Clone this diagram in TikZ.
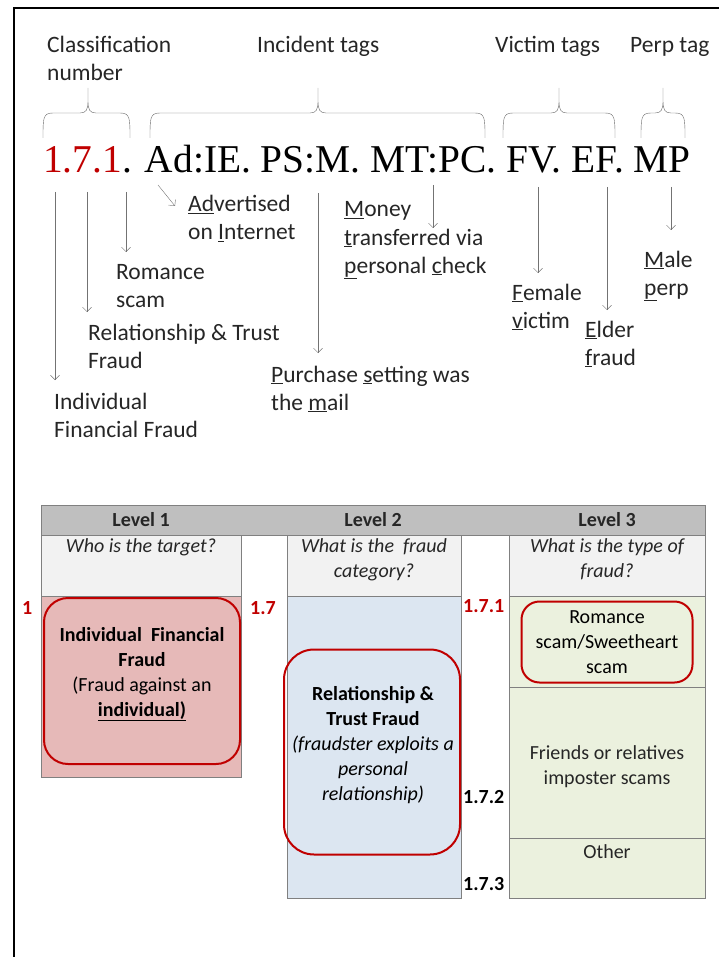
\documentclass[tikz,border=0pt]{standalone}
\usepackage{fontspec}
\setmainfont{Carlito}
\newfontfamily\codefont{Liberation Serif}
\usetikzlibrary{positioning,arrows.meta}
\definecolor{fraudred}{RGB}{192,0,0}
\definecolor{headgray}{RGB}{191,191,191}
\definecolor{askgray}{RGB}{242,242,242}
\definecolor{pinkcell}{RGB}{230,185,184}
\definecolor{bluecell}{RGB}{220,230,241}
\definecolor{greencell}{RGB}{235,241,222}
\definecolor{textgray}{RGB}{38,38,38}
\newcommand{\keyl}[1]{\underline{#1}}
\newcommand{\tagbrace}[3]{%
  \draw[tag-brace] (#1,138) .. controls (#1,118) and (#1,113) .. ({#1+10},113)
    -- ({#2-8},113) .. controls ({#2-2},113) and (#2,110) .. (#2,101) -- (#2,88)
    (#2,101) .. controls (#2,110) and ({#2+2},113) .. ({#2+8},113)
    -- ({#3-10},113) .. controls (#3,113) and (#3,118) .. (#3,138);}
\tikzset{
    tag-label/.style = {anchor=base west, align=left, inner sep=0pt, text=textgray, font=\fontsize{23.5}{28}\selectfont},
    code-label/.style = {anchor=base west, inner sep=0pt, font=\codefont\fontsize{39.4}{39}\selectfont},
    tag-brace/.style = {draw=black!60, thin},
    tag-arrow/.style = {draw=black!55, thin, -{Straight Barb[length=4.5pt,width=9pt]}},
    cell/.style = {draw=black!50, thin},
    cell-text/.style = {align=center, inner sep=0pt, text=textgray, font=\fontsize{20}{25}\selectfont},
    fraud-box/.style = {draw=fraudred, line width=2pt, rounded corners=24pt, align=center, inner sep=0pt, text=black, font=\fontsize{20}{25}\selectfont},
    level-no/.style = {anchor=west, inner sep=0pt, font=\bfseries\fontsize{20}{20}\selectfont},
}
\begin{document}
\begin{tikzpicture}[x=1pt, y=-1pt]
\useasboundingbox (0,0) rectangle (719,957);
% frame
\draw[line width=2.5pt] (14,957) -- (14,8) -- (719,8);

% tag groups
\node[tag-label] (cls) at (47,81) {Classification\\number};
\node[tag-label] (inc) at (257,53) {Incident tags};
\node[tag-label] (vic) at (495,53) {Victim tags};
\node[tag-label] (ptag) at (630,53) {Perp tag};
\tagbrace{43}{88}{130}
\tagbrace{150}{318}{485}
\tagbrace{503}{559}{615}
\tagbrace{641}{663}{685}

% the code
\node[code-label] (code) at (43,173) {\textcolor{fraudred}{1.7.1}. Ad:IE. PS:M. MT:PC. FV. EF. MP};

% meanings (base = last line)
\node[tag-label] (ifraud) at (54,437) {Individual\\Financial Fraud};
\node[tag-label] (rtfraud) at (88,368) {Relationship \& Trust\\Fraud};
\node[tag-label] (romance) at (116,307) {Romance\\scam};
\node[tag-label] (advert) at (188,240) {\keyl{Ad}vertised\\on \keyl{I}nternet};
\node[tag-label] (purchase) at (271,410) {\keyl{P}urchase \keyl{s}etting was\\the \keyl{m}ail};
\node[tag-label] (money) at (344,273) {\keyl{M}oney\\\keyl{t}ransferred via\\\keyl{p}ersonal \keyl{c}heck};
\node[tag-label] (female) at (512,328) {\keyl{F}emale\\\keyl{v}ictim};
\node[tag-label] (elder) at (585,365) {\keyl{E}lder\\\keyl{f}raud};
\node[tag-label] (male) at (644,295) {\keyl{M}ale\\\keyl{p}erp};

\coordinate (c-one) at (55,192);
\coordinate (c-seven) at (87,192);
\coordinate (c-onetwo) at (126,192);
\coordinate (c-ad) at (158,185);
\coordinate (c-ps) at (318,193);
\coordinate (c-mt) at (433,185);
\coordinate (c-fv) at (538,187);
\coordinate (c-ef) at (607,187);
\coordinate (c-mp) at (671,187);
\draw[tag-arrow] (c-one) -- (55,380);
\draw[tag-arrow] (c-seven) -- (87,312);
\draw[tag-arrow] (c-onetwo) -- (126,252);
\draw[tag-arrow] (c-ad) -- (175,206);
\draw[tag-arrow] (c-ps) -- (318,353);
\draw[tag-arrow] (c-mt) -- (433,228);
\draw[tag-arrow] (c-fv) -- (538,273);
\draw[tag-arrow] (c-ef) -- (607,310);
\draw[tag-arrow] (c-mp) -- (671,230);

% table
\draw[cell, fill=headgray] (41,505) rectangle (705,535);
\draw[cell, fill=askgray] (41,535) rectangle (241,596);
\draw[cell, fill=askgray] (287,535) rectangle (461,596);
\draw[cell, fill=askgray] (509,535) rectangle (705,596);
\draw[cell, fill=pinkcell] (41,596) rectangle (241,777);
\draw[cell, fill=bluecell] (287,596) rectangle (461,898);
\draw[cell, fill=greencell] (509,596) rectangle (705,687);
\draw[cell, fill=greencell] (509,687) rectangle (705,838);
\draw[cell, fill=greencell] (509,838) rectangle (705,898);

\node[cell-text, font=\bfseries\fontsize{20}{25}\selectfont] (lv1) at (141,520) {Level 1};
\node[cell-text, font=\bfseries\fontsize{20}{25}\selectfont] (lv2) at (373,520) {Level 2};
\node[cell-text, font=\bfseries\fontsize{20}{25}\selectfont] (lv3) at (607,520) {Level 3};
\node[cell-text, anchor=north, font=\itshape\fontsize{20}{25}\selectfont] (ask1) at (141,538) {Who is the target?};
\node[cell-text, anchor=north, font=\itshape\fontsize{20}{25}\selectfont] (ask2) at (374,538) {What is the\ \ fraud\\category?};
\node[cell-text, anchor=north, font=\itshape\fontsize{20}{25}\selectfont] (ask3) at (607,538) {What is the type of\\fraud?};

\node[fraud-box, minimum width=196pt, minimum height=166pt] (ifbox) at (142,681) {};
\node[cell-text, text=black] (iftext) at (142,674) {\textbf{Individual\ \ Financial}\\\textbf{Fraud}\\(Fraud against an\\\textbf{\underline{individual)}}};
\node[fraud-box, minimum width=176pt, minimum height=205pt, rounded corners=30pt] (rtbox) at (372,752) {};
\node[cell-text, text=black] (rttext) at (373,745) {\textbf{Relationship \&}\\\textbf{Trust Fraud}\\\textit{(fraudster exploits a}\\\textit{personal}\\\textit{relationship)}};
\node[fraud-box, minimum width=171pt, minimum height=81pt, rounded corners=18pt] (rsbox) at (607,642) {Romance\\scam/Sweetheart\\scam};
\node[cell-text] (friends) at (607,767) {Friends or relatives\\imposter scams};
\node[cell-text, anchor=base] (other) at (607,858) {Other};

\node[level-no, text=fraudred] (n1) at (22,608) {1};
\node[level-no, text=fraudred] (n17) at (250,608) {1.7};
\node[level-no, text=fraudred] (n171) at (463,606) {1.7.1};
\node[level-no] (n172) at (463,797) {1.7.2};
\node[level-no] (n173) at (463,884) {1.7.3};
\end{tikzpicture}
\end{document}
